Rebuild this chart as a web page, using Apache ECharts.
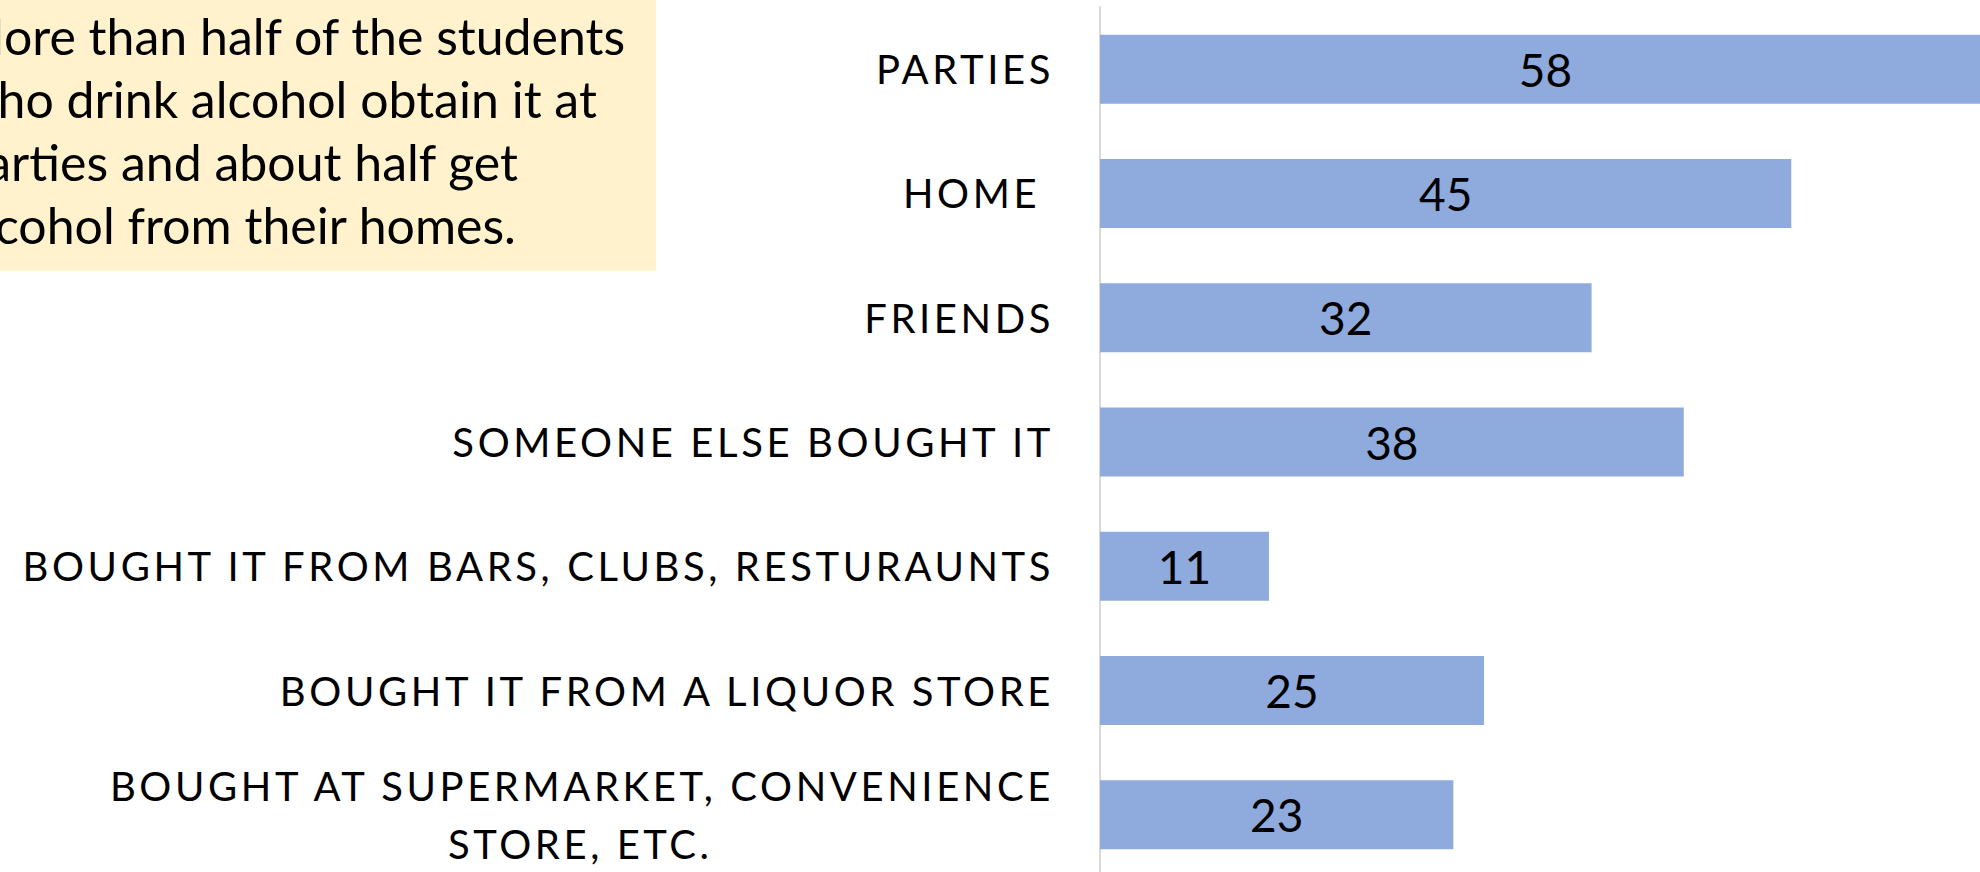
<!DOCTYPE html>
<html>
<head>
<meta charset="utf-8">
<script src="https://cdn.jsdelivr.net/npm/echarts@6/dist/echarts.min.js"></script>
<style>
  html, body { margin: 0; padding: 0; background: #ffffff; }
  #chart { width: 1980px; height: 872px; }
  /* category labels are set in spaced capitals */
  #chart svg text[style*="Roboto"] { letter-spacing: 3.6px; }
</style>
</head>
<body>
<div id="chart"></div>
<script>
// Where students who drink get their alcohol (percent)
const categories = [
  'PARTIES',
  'HOME ',
  'FRIENDS',
  'SOMEONE ELSE BOUGHT IT',
  'BOUGHT IT FROM BARS, CLUBS, RESTURAUNTS',
  'BOUGHT IT FROM A LIQUOR STORE',
  'BOUGHT AT SUPERMARKET, CONVENIENCE\nSTORE, ETC.'
];
const values = [58, 45, 32, 38, 11, 25, 23];

// Callout text
const noteLines = [
  'More than half of the students',
  'who drink alcohol obtain it at',
  'parties and about half get',
  'alcohol from their homes.'
];

const FONT = 'Lato, "Open Sans", sans-serif';
const LABEL_FONT = 'Lato, Roboto, sans-serif';
const LABEL_SPACING = 3.6;   // must equal the letter-spacing in the stylesheet
const noteFontSize = 50;

// Left-aligned callout whose first line ends at a fixed right edge
const measureCtx = document.createElement('canvas').getContext('2d');
measureCtx.font = noteFontSize + 'px ' + FONT;
const noteX = 627 - measureCtx.measureText(noteLines[0]).width;

// Two-line labels: first line flush right, second centred under the (spaced) first line
function labelFormatter(v) {
  const parts = v.split('\n');
  if (parts.length === 1) return v;
  const pad = Math.round(parts[0].length * LABEL_SPACING);
  return '{a|' + parts[0] + '}\n{b' + pad + '|' + parts[1] + '}';
}
const richStyles = {
  a: { align: 'right', color: '#000000', fontFamily: LABEL_FONT, fontSize: 40, lineHeight: 58 }
};
categories.forEach(function (c) {
  const parts = c.split('\n');
  if (parts.length > 1) {
    const pad = Math.round(parts[0].length * LABEL_SPACING);
    richStyles['b' + pad] = {
      align: 'center', color: '#000000', fontFamily: LABEL_FONT, fontSize: 40,
      lineHeight: 58, padding: [0, pad, 0, 0]
    };
  }
});

const chart = echarts.init(document.getElementById('chart'), null, { renderer: 'svg' });

chart.setOption({
  backgroundColor: '#ffffff',
  animation: false,
  grid: {
    left: 1100,
    top: 7,
    width: 891,
    height: 870,
    containLabel: false,
    outerBoundsMode: 'none'
  },
  xAxis: {
    type: 'value',
    min: 0,
    max: 58,
    show: false
  },
  yAxis: {
    type: 'category',
    inverse: true,
    data: categories,
    axisLine: { show: true, lineStyle: { color: '#d9d9d9', width: 2 } },
    axisTick: { show: false },
    splitLine: { show: false },
    axisLabel: {
      margin: 46,
      color: '#000000',
      fontFamily: LABEL_FONT,
      fontSize: 40,
      lineHeight: 58,
      formatter: labelFormatter,
      rich: richStyles
    }
  },
  series: [{
    type: 'bar',
    data: values,
    barWidth: 69,
    itemStyle: { color: '#8faadc' },
    label: {
      show: true,
      position: 'inside',
      color: '#000000',
      fontFamily: FONT,
      fontSize: 46
    }
  }],
  graphic: [
    {
      type: 'rect',
      shape: { x: 0, y: 0, width: 656, height: 271 },
      style: { fill: '#fff2cc' },
      z: 10
    },
    {
      type: 'text',
      x: noteX,
      y: 4,
      z: 11,
      style: {
        text: noteLines.join('\n'),
        font: noteFontSize + 'px ' + FONT,
        fill: '#000000',
        lineHeight: 63,
        textAlign: 'left',
        textVerticalAlign: 'top'
      }
    }
  ]
});
</script>
</body>
</html>
